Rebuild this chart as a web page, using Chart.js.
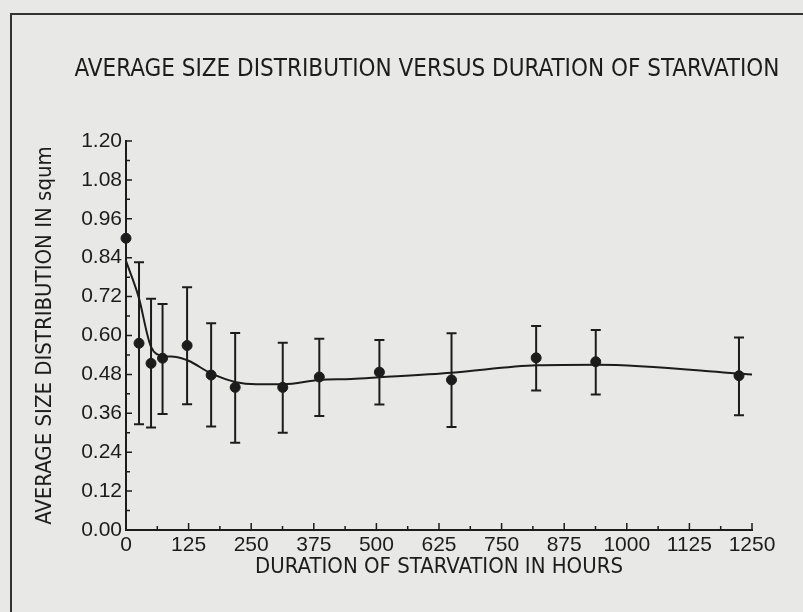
<!DOCTYPE html>
<html>
<head>
<meta charset="utf-8">
<script src="https://cdn.jsdelivr.net/npm/chart.js@4.4.0/dist/chart.umd.min.js"></script>
<style>
  html, body { margin: 0; padding: 0; background: #e8e8e6; }
  #wrap { width: 803px; height: 612px; position: relative; }
</style>
</head>
<body>
<div id="wrap"><canvas id="chart1" width="803" height="612"></canvas></div>
<script>
// measured points (hours, mean size) and error bar ends
const hours = [0, 26, 50, 73, 122, 170, 218, 313, 386, 506, 650, 819, 938, 1224];
const means = [0.90, 0.576, 0.514, 0.530, 0.569, 0.478, 0.440, 0.440, 0.472, 0.487, 0.463, 0.531, 0.519, 0.476];
const errTop = [null, 0.826, 0.713, 0.697, 0.749, 0.638, 0.608, 0.578, 0.590, 0.586, 0.607, 0.629, 0.617, 0.594];
const errBottom = [null, 0.326, 0.316, 0.358, 0.388, 0.319, 0.269, 0.300, 0.352, 0.387, 0.318, 0.430, 0.418, 0.354];

// fitted curve
const curveHours = [0, 25, 50, 75, 100, 125, 170, 220, 260, 315, 385, 450, 506, 650, 820, 940, 1250];
const curveValues = [0.83, 0.72, 0.565, 0.537, 0.534, 0.522, 0.483, 0.456, 0.45, 0.45, 0.463, 0.466, 0.471, 0.485, 0.508, 0.51, 0.48];

const yTicks = ['0.00', '0.12', '0.24', '0.36', '0.48', '0.60', '0.72', '0.84', '0.96', '1.08', '1.20'];
const xTicks = ['0', '125', '250', '375', '500', '625', '750', '875', '1000', '1125', '1250'];

const ink = '#1c1c1c';
const narrow = '"Liberation Sans Narrow", "DejaVu Sans Condensed", "Liberation Sans", sans-serif';
const plain = '"Liberation Sans", Arial, sans-serif';

// frame, title, inside ticks
const decor = {
    id: 'decor',
    beforeDraw(chart) {
        const ctx = chart.ctx;
        ctx.save();
        ctx.strokeStyle = '#333';
        ctx.lineWidth = 2;
        ctx.beginPath();
        ctx.moveTo(11, 612);
        ctx.lineTo(11, 14);
        ctx.lineTo(803, 14);
        ctx.stroke();
        ctx.fillStyle = ink;
        ctx.font = '24px ' + narrow;
        ctx.textAlign = 'center';
        ctx.textBaseline = 'middle';
        ctx.fillText('AVERAGE SIZE DISTRIBUTION VERSUS DURATION OF STARVATION', 427, 70);
        ctx.restore();
    },
    afterDraw(chart) {
        const ctx = chart.ctx;
        const x = chart.scales.x, y = chart.scales.y;
        const area = chart.chartArea;
        ctx.save();
        ctx.strokeStyle = ink;
        ctx.lineWidth = 1.5;
        ctx.beginPath();
        for (let i = 0; i <= 20; i++) {
            const py = y.getPixelForValue(i * 0.06);
            ctx.moveTo(area.left, py);
            ctx.lineTo(area.left + (i % 2 ? 4 : 6), py);
            const px = x.getPixelForValue(i * 62.5);
            ctx.moveTo(px, area.bottom);
            ctx.lineTo(px, area.bottom - (i % 2 ? 4 : 7));
        }
        ctx.stroke();
        ctx.restore();
    }
};

const errorBars = {
    id: 'errorBars',
    afterDatasetsDraw(chart) {
        const ctx = chart.ctx;
        const x = chart.scales.x, y = chart.scales.y;
        ctx.save();
        ctx.strokeStyle = ink;
        ctx.lineWidth = 2;
        hours.forEach((h, i) => {
            if (errTop[i] === null) return;
            const px = x.getPixelForValue(h);
            const t = y.getPixelForValue(errTop[i]);
            const b = y.getPixelForValue(errBottom[i]);
            ctx.beginPath();
            ctx.moveTo(px, t); ctx.lineTo(px, b);
            ctx.moveTo(px - 5, t); ctx.lineTo(px + 5, t);
            ctx.moveTo(px - 5, b); ctx.lineTo(px + 5, b);
            ctx.stroke();
        });
        ctx.restore();
    }
};

const ctx = document.getElementById('chart1').getContext('2d');
new Chart(ctx, {
    type: 'scatter',
    data: {
        datasets: [{
            label: 'fit',
            data: curveHours.map((h, i) => ({ x: h, y: curveValues[i] })),
            showLine: true,
            borderColor: ink,
            borderWidth: 2,
            pointRadius: 0,
            cubicInterpolationMode: 'monotone',
            clip: false
        }, {
            label: 'mean',
            data: hours.map((h, i) => ({ x: h, y: means[i] })),
            showLine: false,
            pointRadius: 5,
            pointBackgroundColor: ink,
            pointBorderColor: ink,
            clip: false
        }]
    },
    options: {
        responsive: false,
        animation: false,
        layout: { padding: { left: 0, right: 51, top: 141, bottom: 0 } },
        plugins: {
            legend: { display: false },
            tooltip: { enabled: false }
        },
        scales: {
            x: {
                type: 'linear',
                min: 0,
                max: 1250,
                grid: { display: false, drawTicks: false },
                border: { display: true, color: ink, width: 2 },
                ticks: {
                    stepSize: 125,
                    padding: 3,
                    color: ink,
                    maxRotation: 0,
                    autoSkip: false,
                    font: { family: plain, size: 21 },
                    callback: (v, i) => xTicks[i]
                },
                title: {
                    display: true,
                    text: 'DURATION OF STARVATION IN HOURS',
                    color: ink,
                    font: { family: narrow, size: 22 },
                    padding: { top: 0, bottom: 32 }
                },
                afterFit(scale) { scale.height = 82; }
            },
            y: {
                min: 0,
                max: 1.2,
                grid: { display: false, drawTicks: false },
                border: { display: true, color: ink, width: 2 },
                ticks: {
                    stepSize: 0.12,
                    padding: 4,
                    color: ink,
                    autoSkip: false,
                    font: { family: plain, size: 21 },
                    callback: (v, i) => yTicks[i]
                },
                title: {
                    display: true,
                    text: 'AVERAGE SIZE DISTRIBUTION IN squm',
                    color: ink,
                    font: { family: narrow, size: 22 },
                    padding: { top: 32, bottom: 0 }
                },
                afterFit(scale) { scale.width = 126; }
            }
        }
    },
    plugins: [decor, errorBars]
});
</script>
</body>
</html>
